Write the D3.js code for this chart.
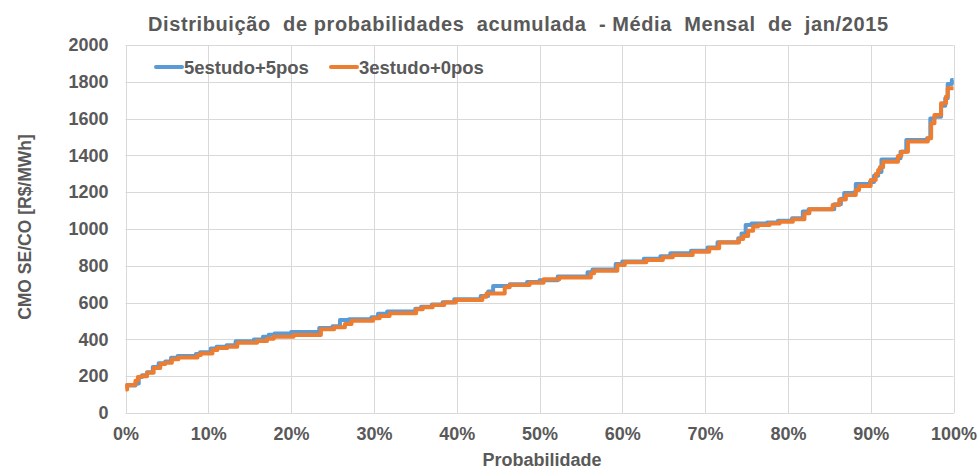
<!DOCTYPE html>
<html>
<head>
<meta charset="utf-8">
<script src="https://cdn.jsdelivr.net/npm/d3@7"></script>
<style>
  html, body { margin: 0; padding: 0; background: #fff; }
  svg { display: block; font-family: "Liberation Sans", Arial, sans-serif; }
</style>
</head>
<body>
<svg id="chart" width="980" height="470"></svg>
<script>
// Cumulative distribution of monthly average CMO (R$/MWh), step points [probability %, value]
const seriesNames = ["5estudo+5pos", "3estudo+0pos"];
const seriesColors = ["#5B9BD5", "#ED7D31"];

const probA = [0, 1.2, 1.6, 2.0, 2.6, 3.3, 4.0, 4.8, 5.5, 6.3, 8.5, 9.0, 10.3, 11.0, 12.2, 13.3, 15.5, 16.6, 17.3, 18.0,
  20.0, 23.4, 25.0, 25.9, 27.0, 29.7, 30.5, 31.6, 35.0, 35.7, 37.0, 38.3, 39.7, 42.9, 43.8, 44.4, 46.4, 48.5, 50.0, 52.2,
  55.8, 56.4, 59.2, 60.0, 62.6, 64.6, 65.8, 68.3, 70.3, 71.5, 74.0, 74.4, 74.9, 75.6, 77.5, 78.8, 80.5, 81.8, 82.5, 85.6,
  86.4, 86.8, 88.0, 88.2, 89.9, 90.4, 90.9, 91.3, 93.2, 93.6, 94.3, 96.8, 97.2, 97.7, 98.5, 99.0, 99.3, 99.8, 100];
const valA = [150, 160, 195, 205, 222, 250, 270, 280, 300, 310, 320, 330, 350, 360, 368, 390, 400, 415, 425, 432,
  440, 462, 472, 505, 510, 520, 540, 552, 566, 578, 590, 602, 618, 636, 660, 690, 700, 712, 722, 742,
  765, 780, 810, 823, 838, 852, 868, 882, 900, 928, 950, 975, 1022, 1030, 1035, 1045, 1058, 1095, 1107, 1135,
  1165, 1195, 1200, 1245, 1255, 1290, 1310, 1378, 1385, 1420, 1484, 1493, 1600, 1610, 1670, 1710, 1788, 1810, 1810];

const probB = [0, 0.2, 1.2, 1.5, 1.9, 2.6, 3.4, 4.2, 4.8, 5.6, 6.4, 8.7, 9.1, 10.5, 11.1, 12.3, 13.5, 15.9, 17.1, 17.9,
  20.3, 23.6, 25.2, 26.5, 27.3, 29.9, 30.7, 31.9, 35.1, 35.9, 37.1, 38.5, 39.9, 43.1, 43.6, 45.8, 46.4, 48.8, 50.5, 52.4,
  56.2, 56.6, 59.4, 60.3, 62.9, 64.9, 66.1, 68.5, 70.5, 71.7, 74.1, 74.6, 75.2, 75.8, 76.4, 77.8, 79.0, 80.6, 82.0, 82.6,
  85.4, 86.2, 87.0, 88.2, 88.6, 90.0, 90.6, 90.9, 91.1, 91.5, 93.3, 93.7, 94.5, 96.9, 97.3, 97.7, 98.5, 99.1, 99.3, 100];
const valB = [128, 152, 175, 195, 200, 219, 244, 266, 273, 292, 302, 315, 324, 342, 353, 360, 382, 391, 404, 415,
  424, 455, 466, 484, 502, 515, 527, 542, 564, 575, 587, 600, 614, 632, 650, 683, 696, 708, 727, 737,
  759, 773, 804, 819, 831, 846, 859, 877, 895, 926, 945, 962, 991, 1013, 1022, 1030, 1040, 1053, 1085, 1107,
  1130, 1161, 1185, 1212, 1234, 1266, 1299, 1320, 1335, 1366, 1397, 1420, 1475, 1493, 1575, 1620, 1683, 1720, 1765, 1765];

const yTicks = [0, 200, 400, 600, 800, 1000, 1200, 1400, 1600, 1800, 2000];
const xTicks = [0, 10, 20, 30, 40, 50, 60, 70, 80, 90, 100];

const title = "Distribuição  de probabilidades  acumulada  - Média  Mensal  de  jan/2015";
const xTitle = "Probabilidade";
const yTitle = "CMO SE/CO [R$/MWh]";

const textColor = "#595959";
const gridColor = "#D9D9D9";
const font = "Liberation Sans, Arial, sans-serif";

const svg = d3.select("#chart");
const m = { left: 125.5, right: 953.5, top: 45, bottom: 413 };

const x = d3.scaleLinear().domain([0, 100]).range([m.left, m.right]);
const y = d3.scaleLinear().domain([0, 2000]).range([m.bottom, m.top]);

// Gridlines
svg.append("g").selectAll("line").data(yTicks).join("line")
  .attr("x1", m.left).attr("x2", m.right)
  .attr("y1", d => Math.round(y(d)) + 0.5).attr("y2", d => Math.round(y(d)) + 0.5)
  .attr("stroke", gridColor).attr("stroke-width", 1);
svg.append("g").selectAll("line").data(xTicks).join("line")
  .attr("y1", m.top).attr("y2", m.bottom)
  .attr("x1", d => Math.round(x(d)) + 0.5).attr("x2", d => Math.round(x(d)) + 0.5)
  .attr("stroke", gridColor).attr("stroke-width", 1);

// Y axis labels
const yAxis = d3.axisLeft(y).tickValues(yTicks).tickSize(0).tickPadding(17).tickFormat(d3.format("d"));
const gy = svg.append("g").attr("transform", `translate(${m.left},0)`).call(yAxis);
gy.select(".domain").remove();
gy.selectAll("text").attr("fill", textColor).attr("font-size", 18).attr("font-weight", "bold")
  .attr("font-family", font);

// X axis labels
const xAxis = d3.axisBottom(x).tickValues(xTicks).tickSize(0).tickPadding(14).tickFormat(d => d + "%");
const gx = svg.append("g").attr("transform", `translate(0,${m.bottom})`).call(xAxis);
gx.select(".domain").attr("stroke", gridColor);
gx.selectAll("text").attr("fill", textColor).attr("font-size", 18).attr("font-weight", "bold")
  .attr("font-family", font);

// Series lines
const series = [
  probA.map((p, i) => ({ p, v: valA[i] })),
  probB.map((p, i) => ({ p, v: valB[i] }))
];
const line = d3.line().x(d => x(d.p)).y(d => y(d.v)).curve(d3.curveStepAfter);
series.forEach((s, i) => {
  svg.append("path").datum(s)
    .attr("d", line)
    .attr("fill", "none")
    .attr("stroke", seriesColors[i])
    .attr("stroke-width", 4)
    .attr("stroke-linejoin", "round");
});

// Legend
const legendX = [156, 331];
seriesNames.forEach((name, i) => {
  const g = svg.append("g").attr("transform", `translate(${legendX[i]},67)`);
  g.append("line").attr("x1", 0).attr("x2", 26).attr("y1", 0).attr("y2", 0)
    .attr("stroke", seriesColors[i]).attr("stroke-width", 4).attr("stroke-linecap", "round");
  g.append("text").attr("x", 28).attr("y", 6.5).text(name)
    .attr("fill", textColor).attr("font-size", 18.5).attr("font-weight", "bold");
});

// Titles
svg.append("text").attr("x", 518).attr("y", 31).attr("text-anchor", "middle")
  .attr("fill", textColor).attr("font-size", 20).attr("font-weight", "bold")
  .attr("textLength", 740).attr("lengthAdjust", "spacing")
  .style("white-space", "pre").text(title);
svg.append("text").attr("x", 542).attr("y", 466).attr("text-anchor", "middle")
  .attr("fill", textColor).attr("font-size", 18).attr("font-weight", "bold").text(xTitle);
svg.append("text").attr("transform", "translate(31,227) rotate(-90)").attr("text-anchor", "middle")
  .attr("fill", textColor).attr("font-size", 17.5).attr("font-weight", "bold").text(yTitle);
</script>
</body>
</html>
